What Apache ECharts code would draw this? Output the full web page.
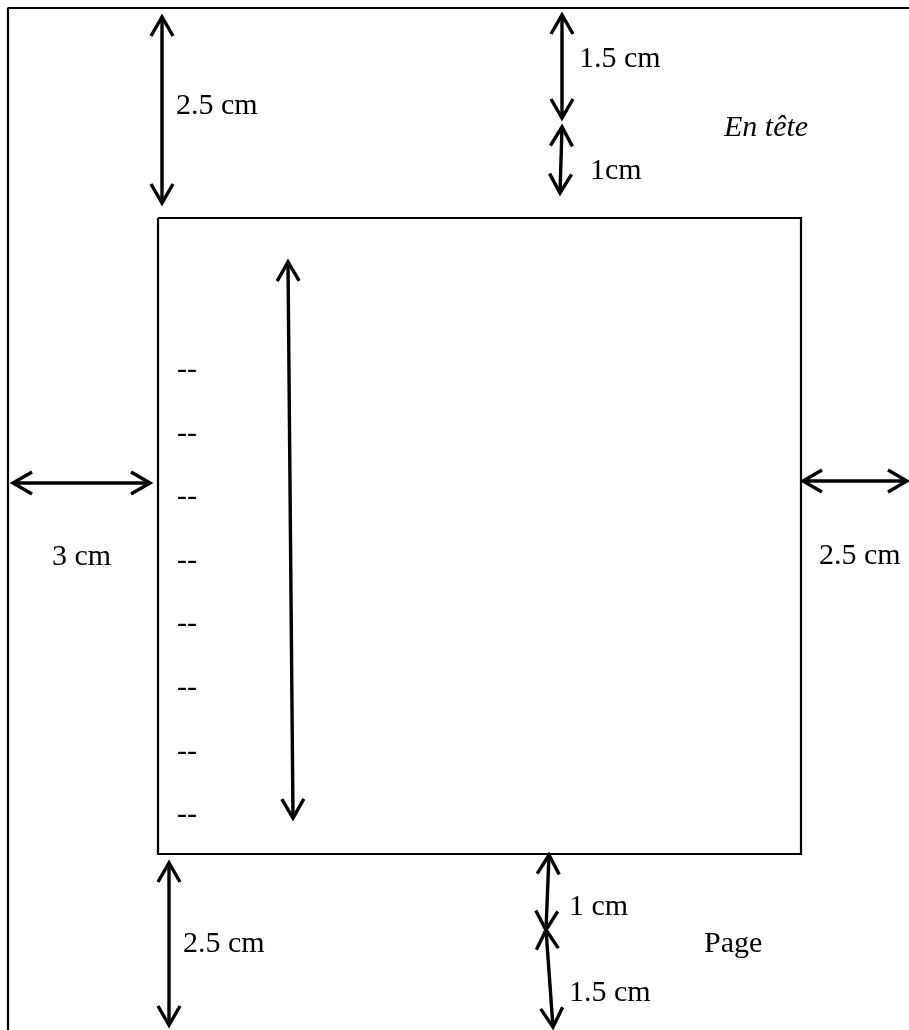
<!DOCTYPE html>
<html><head><meta charset="utf-8">
<script src="https://cdn.jsdelivr.net/npm/echarts@6/dist/echarts.min.js"></script>
<style>html,body{margin:0;padding:0;background:#fff}#c{width:909px;height:1030px}</style>
</head><body><div id="c"></div>
<script>
// Page coordinates (x to the right, y downward)
const pageFrame = [[8,1030],[8,8],[909,8]];
const bodyBox = [[158,218],[801,218],[801,854],[158,854],[158,218]];
// double-headed arrows: [x1, y1, x2, y2]
const arrows = [
  [162,17,162,203],
  [562,15,562,118],
  [562,127,560,193],
  [13,483,150,483],
  [803,481,907,481],
  [169,863,169,1025],
  [549,855,546,930],
  [546,930,553,1027],
  [288,262,293,818]
];
// labels: text, x, baseline y, italic
const labelTexts = ['2.5 cm','1.5 cm','1cm','En tête','3 cm','2.5 cm','2.5 cm','1 cm','Page','1.5 cm'];
const labelX =     [176, 579, 590, 724, 52, 819, 183, 569, 704, 569];
const labelY =     [116, 69, 181, 138, 567, 566, 954, 917, 954, 1003];
const labelItalic =[false,false,false,true,false,false,false,false,false,false];
// "--" row markers in the body
const dashRows = [368,432,495,559,622,686,750,813];
const dashX = 177;

const FS = 30;
const FONT = '"Liberation Serif", "Times New Roman", serif';

const chart = echarts.init(document.getElementById('c'), null, {renderer:'canvas'});

function arrowItem(params, api){
  const a = api.coord([api.value(0), api.value(1)]);
  const b = api.coord([api.value(2), api.value(3)]);
  const dx = b[0]-a[0], dy = b[1]-a[1];
  const len = Math.sqrt(dx*dx+dy*dy);
  const ux = dx/len, uy = dy/len, nx = -uy, ny = ux;
  const L = 19, W = 11;
  const head = (t, s) => [
    [t[0]+s*ux*L+nx*W, t[1]+s*uy*L+ny*W],
    [t[0], t[1]],
    [t[0]+s*ux*L-nx*W, t[1]+s*uy*L-ny*W]
  ];
  const st = {stroke:'#000', lineWidth:3.4, fill:null, lineJoin:'miter', lineCap:'butt'};
  return {type:'group', children:[
    {type:'line', shape:{x1:a[0],y1:a[1],x2:b[0],y2:b[1]}, style:st},
    {type:'polyline', shape:{points:head(a,1)}, style:st},
    {type:'polyline', shape:{points:head(b,-1)}, style:st}
  ]};
}

function labelItem(params, api){
  const p = api.coord([api.value(0), api.value(1)]);
  const i = params.dataIndex;
  return {type:'text', x:p[0], y:p[1]-FS*0.34, style:{
    text: labelTexts[i], fontSize: FS, fontFamily: FONT,
    fontStyle: labelItalic[i] ? 'italic' : 'normal',
    fill:'#000', align:'left', verticalAlign:'middle'
  }};
}

function dashItem(params, api){
  const p = api.coord([api.value(0), api.value(1)]);
  return {type:'text', x:p[0], y:p[1]+2.5, style:{
    text:'--', fontSize: FS, fontFamily: FONT, fill:'#000', align:'left', verticalAlign:'middle'
  }};
}

chart.setOption({
  animation:false,
  backgroundColor:'#fff',
  grid:{left:0,right:0,top:0,bottom:0},
  xAxis:{type:'value', min:0, max:909, show:false},
  yAxis:{type:'value', min:0, max:1030, inverse:true, show:false},
  series:[
    {type:'line', data:pageFrame, symbol:'none', clip:false, lineStyle:{color:'#000', width:2.2}},
    {type:'line', data:bodyBox, symbol:'none', clip:false, lineStyle:{color:'#000', width:2.2, join:'miter'}},
    {type:'custom', renderItem:arrowItem, data:arrows, clip:false},
    {type:'custom', renderItem:labelItem, data:labelX.map((x,i)=>[x,labelY[i]]), clip:false},
    {type:'custom', renderItem:dashItem, data:dashRows.map(y=>[dashX,y]), clip:false}
  ]
});
</script>
</body></html>
